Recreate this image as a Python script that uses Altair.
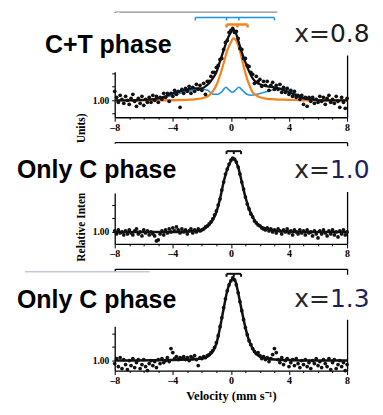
import altair as alt
import pandas as pd

# ---- data -----------------------------------------------------------------
# Doppler velocity channels (mm/s)
velocity = [
    -8.0, -7.875, -7.75, -7.625, -7.5, -7.375, -7.25, -7.125,
    -7.0, -6.875, -6.75, -6.625, -6.5, -6.375, -6.25, -6.125,
    -6.0, -5.875, -5.75, -5.625, -5.5, -5.375, -5.25, -5.125,
    -5.0, -4.875, -4.75, -4.625, -4.5, -4.375, -4.25, -4.125,
    -4.0, -3.875, -3.75, -3.625, -3.5, -3.375, -3.25, -3.125,
    -3.0, -2.875, -2.75, -2.625, -2.5, -2.375, -2.25, -2.125,
    -2.0, -1.875, -1.75, -1.625, -1.5, -1.375, -1.25, -1.125,
    -1.0, -0.875, -0.75, -0.625, -0.5, -0.375, -0.25, -0.125,
    0.0, 0.125, 0.25, 0.375, 0.5, 0.625, 0.75, 0.875,
    1.0, 1.125, 1.25, 1.375, 1.5, 1.625, 1.75, 1.875,
    2.0, 2.125, 2.25, 2.375, 2.5, 2.625, 2.75, 2.875,
    3.0, 3.125, 3.25, 3.375, 3.5, 3.625, 3.75, 3.875,
    4.0, 4.125, 4.25, 4.375, 4.5, 4.625, 4.75, 4.875,
    5.0, 5.125, 5.25, 5.375, 5.5, 5.625, 5.75, 5.875,
    6.0, 6.125, 6.25, 6.375, 6.5, 6.625, 6.75, 6.875,
    7.0, 7.125, 7.25, 7.375, 7.5, 7.625, 7.75, 7.875,
    8.0,
]

# measured points, per-mille above the 1.00 baseline
ct_points = [
    9, 3, -2, 5, 1, -3, 4, 0,
    -4, 2, 6, -1, -6, 2, -3, 4,
    -5, 1, -2, 3, -2, 5, 0, 4,
    -2, 3, 1, 7, 3, 7, -1, 7,
    4, 10, 6, 9, -7, 11, 7, 12,
    9, 14, 7, 13, 9, 16, 11, 15,
    10, 17, 6, 19, 19, 24, 28, 28,
    33, 35, 41, 42, 51, 58, 60, 68,
    70, 72, 68, 69, 62, 52, 51, 42,
    42, 35, 34, 28, 26, 17, 24, 19,
    21, 14, 19, 15, 19, 10, 15, 18,
    11, 15, 11, 16, 8, 13, 8, 12,
    6, 10, 4, 9, 3, 5, 1, 5,
    -4, 3, -6, 3, -1, 3, -3, 1,
    -2, 4, -1, 3, -4, 2, 5, -2,
    1, -3, 4, -1, -7, 3, -2, -8,
    2,
]
c10_points = [
    1, -2, 2, -1, 0, -3, 1, -2,
    2, -1, -3, 1, 3, -2, 0, -4,
    2, -1, 1, -3, 0, -2, -4, -9,
    -8, -2, 1, -3, 2, -1, 3, 0,
    4, 1, 5, 2, -1, 3, 0, 2,
    -2, 1, 3, -1, 2, 0, 3, 1,
    2, 3, 5, 6, 8, 10, 13, 17,
    21, 27, 33, 42, 50, 58, 63, 68,
    72, 74, 73, 70, 65, 58, 50, 43,
    35, 28, 23, 18, 15, 11, 9, 7,
    6, 4, 3, 2, 4, 1, 3, 0,
    2, -1, 3, 1, -2, 2, 0, 3,
    -1, 1, -3, 2, 0, -2, 2, -1,
    1, -3, 2, -1, 0, -4, 1, -2,
    -6, 1, -2, 2, -1, -4, 1, -2,
    2, -3, 0, -5, 1, -2, 2, -3,
    0,
]
c13_points = [
    -3, 2, -6, 3, -8, 1, -4, -9,
    0, -5, 2, -7, -2, 1, -8, -4,
    1, -6, -10, -3, 0, -5, -1, -7,
    1, -3, 2, -2, 0, 3, -1, 12,
    8, 2, 4, 1, 3, 2, 4, 1,
    3, 0, 4, 2, 5, 1, -5, 3,
    2, 4, 3, 5, 6, 8, 10, 13,
    18, 25, 34, 43, 53, 62, 70, 76,
    80, 83, 81, 76, 68, 59, 50, 41,
    33, 26, 20, 16, 12, 9, 7, 8,
    5, 2, 4, 1, 3, -1, 2, 6,
    12, 8, 1, -2, 3, -4, 0, 2,
    -6, -2, 1, -5, 2, -3, -7, 0,
    -4, 1, -6, -2, -8, 0, -3, 2,
    -5, -1, -7, 1, -3, -6, 2, -9,
    -2, 1, -8, -4, 0, -6, -2, -10,
    -4,
]

# fitted curves (velocity, per-mille)
ct_fit_v = [-8, -7, -6, -5.5, -5, -4.5, -4, -3.5, -3, -2.5, -2, -1.75, -1.5, -1.25, -1,
            -0.75, -0.5, -0.25, 0, 0.15, 0.3, 0.5, 0.75, 1, 1.25, 1.5, 1.75, 2, 2.5, 3,
            3.5, 4, 4.5, 5, 5.5, 6, 7, 8]
ct_fit = [0, 0, 0.5, 1, 2, 4, 7, 9, 11, 12, 12, 14, 17, 22, 28,
          39, 50, 61, 68, 71, 69, 60, 48, 38, 29, 22, 18, 16, 14, 13,
          11, 8, 5, 2, 1, 0, 0, 0]
ct_tet_v = [-8, -5, -3, -2.5, -2, -1.5, -1.25, -1, -0.75, -0.5, -0.25, 0, 0.15, 0.3,
            0.5, 0.75, 1, 1.25, 1.5, 1.75, 2, 2.5, 3, 4, 5, 8]
ct_tet = [0, 0, 0.5, 1, 2, 5, 9, 15, 25, 37, 50, 58, 62, 61,
          55, 42, 27, 16, 8, 5, 3, 1.5, 1, 0.5, 0, 0]
ct_cub_v = [-8, -7, -6, -5, -4.5, -4, -3.5, -3, -2.5, -2, -1.6, -1.2, -0.9, -0.6, -0.35,
            -0.1, 0.1, 0.3, 0.55, 0.8, 1.1, 1.4, 1.8, 2.3, 2.8, 3.3, 3.8, 4.3, 4.8, 5.3,
            5.8, 6.5, 8]
ct_cub = [0, 0, 0, 1, 3, 5, 7, 9, 10, 11, 10, 6, 6, 9, 13,
          10, 8, 10, 13, 10, 6, 5, 6, 8, 10, 12, 11, 8, 4, 2,
          1, 0, 0]
c10_fit_v = [-8, -4, -3, -2.5, -2, -1.75, -1.5, -1.25, -1, -0.75, -0.5, -0.25, 0, 0.15,
             0.3, 0.5, 0.75, 1, 1.25, 1.5, 1.75, 2, 2.5, 3, 4, 5, 8]
c10_fit = [0, 0, 0.5, 1, 2, 4, 7, 12, 20, 33, 50, 63, 71, 74,
           72, 65, 50, 35, 23, 15, 9, 6, 3, 1.5, 0.5, 0, 0]
c13_fit_v = [-8, -4, -3, -2, -1.5, -1.25, -1, -0.75, -0.5, -0.25, 0, 0.15, 0.3, 0.5,
             0.75, 1, 1.25, 1.5, 1.75, 2, 2.5, 3, 4, 5, 8]
c13_fit = [0, 0.5, 1, 2, 5, 9, 17, 33, 52, 70, 80, 82, 80, 68,
           50, 33, 20, 12, 7, 4, 2, 1, 0.5, 0, 0]

# component position brackets (velocity of legs) and their height (per-mille)
ct_cub_bracket = [-2.45, -0.3, 0.55, 3.0]
ct_tet_bracket = [-0.3, 0.45, 1.15]
c10_bracket = [-0.3, 0.2, 0.7]
c13_bracket = [-0.3, 0.2, 0.7]

phase_labels = ["C+T phase", "Only C phase", "Only C phase"]
x_prefix = "x="
x_values = ["0.8", "1.0", "1.3"]
y_title = "Relative Intensity (Arb. Units)"
x_title = "Velocity (mm s\u207b\u00b9)"
x_ticks = list(range(-8, 9))
y_ticks = [0.987, 1.0, 1.0135, 1.027, 1.0405, 1.054, 1.0675, 1.081]

# ---- styling --------------------------------------------------------------
BLACK = "#111111"
ORANGE = "#f5821f"
BLUE = "#1f93e6"
SERIF = "Liberation Serif"
SANS = "Liberation Sans"

xs = alt.Scale(domain=[-8, 8], nice=False, zero=False)


def to_int(vals):
    return [1 + d / 1000.0 for d in vals]


def one_row(**kw):
    return pd.DataFrame({k: [v] for k, v in kw.items()})


def x_axis(title):
    kw = dict(
        orient="bottom", values=x_ticks,
        labelExpr="datum.value % 4 == 0 ? (datum.value < 0 ? '\u2013' + (-datum.value) : '' + datum.value) : ''",
        tickSize={"condition": {"test": "datum.value % 4 == 0", "value": 4}, "value": 2},
        tickColor="black", tickWidth=1, domainColor="black", domainWidth=1.3,
        labelFont=SERIF, labelFontWeight="bold", labelFontSize=10, labelColor="black",
        labelPadding=1, labelFlush=False, labelOverlap=False, labelAngle=0, grid=False,
    )
    if title:
        kw.update(title=title, titleFont=SERIF, titleFontWeight="bold", titleFontSize=12.5,
                  titleColor="black", titlePadding=4)
    else:
        kw.update(title=None)
    return alt.Axis(**kw)


def y_axis():
    return alt.Axis(orient="left", values=y_ticks,
                    labelExpr="datum.value == 1 ? '1.00' : ''",
                    tickSize=3, tickColor="black", domainColor="black", domainWidth=1.3,
                    labelFont=SERIF, labelFontWeight="bold", labelFontSize=9.5,
                    labelColor="black", labelPadding=3, labelOverlap=False,
                    grid=False, title=None)


def box(x0, x1, y0, y1):
    return alt.Chart(one_row(k=0)).mark_rect(color="white").encode(
        x=alt.value(x0), x2=alt.value(x1), y=alt.value(y0), y2=alt.value(y1))


def label_layers(i, base_y, xval_y, val_color):
    lay = [
        alt.Chart(one_row(t=phase_labels[i])).mark_text(
            align="left", baseline="alphabetic", font=SANS, fontSize=25,
            fontWeight="bold", color="black").encode(
            x=alt.value(-98 if i > 0 else -70), y=alt.value(base_y), text="t:N"),
        alt.Chart(one_row(t=x_prefix)).mark_text(
            align="left", baseline="alphabetic", font="DejaVu Sans", fontSize=25,
            color="#262626").encode(x=alt.value(180), y=alt.value(xval_y), text="t:N"),
        alt.Chart(one_row(t=x_values[i])).mark_text(
            align="left", baseline="alphabetic", font="DejaVu Sans", fontSize=25,
            color=val_color).encode(x=alt.value(215.8), y=alt.value(xval_y), text="t:N"),
    ]
    return lay


def bracket(ys, legs, level, color, width):
    lv = 1 + level / 1000.0
    h = alt.Chart(one_row(a=min(legs), b=max(legs), y=lv)).mark_rule(
        color=color, strokeWidth=width).encode(
        x=alt.X("a:Q", scale=xs, axis=None), x2="b:Q",
        y=alt.Y("y:Q", scale=ys, axis=None))
    t = alt.Chart(pd.DataFrame({"a": legs, "y": [lv] * len(legs),
                                "y2": [lv - 0.003] * len(legs)})).mark_rule(
        color=color, strokeWidth=width).encode(
        x=alt.X("a:Q", scale=xs, axis=None),
        y=alt.Y("y:Q", scale=ys, axis=None), y2="y2:Q")
    return [h, t]


def line(ys, v, vals, color, width, frame=None):
    df = pd.DataFrame({"v": v, "y": to_int(vals)})
    if frame is None:
        xa, ya = None, None
    else:
        xa = alt.Axis(orient="top", ticks=False, labels=False, grid=False, title=None,
                      domainColor=frame, domainWidth=1.3)
        ya = alt.Axis(orient="right", ticks=False, labels=False, grid=False, title=None,
                      domainColor="black", domainWidth=1.3)
    return alt.Chart(df).mark_line(color=color, strokeWidth=width,
                                   interpolate="monotone").encode(
        x=alt.X("v:Q", scale=xs, axis=xa), y=alt.Y("y:Q", scale=ys, axis=ya))


def points(ys, vals, title):
    n = min(len(velocity), len(vals))
    df = pd.DataFrame({"v": velocity[:n], "y": to_int(vals[:n])})
    return alt.Chart(df).mark_circle(size=14, color=BLACK, opacity=1).encode(
        x=alt.X("v:Q", scale=xs, axis=x_axis(title)),
        y=alt.Y("y:Q", scale=ys, axis=y_axis()))


W = 233

# ---- panel 1: x = 0.8 -----------------------------------------------------
ys1 = alt.Scale(domain=[0.983, 1.089], nice=False, zero=False)
p1 = alt.layer(
    line(ys1, ct_cub_v, ct_cub, BLUE, 1.6, frame="#8c8c8c"),
    line(ys1, ct_tet_v, ct_tet, ORANGE, 2.2),
    points(ys1, ct_points, None),
    line(ys1, ct_fit_v, ct_fit, BLACK, 2.3),
    *bracket(ys1, ct_cub_bracket, 83, BLUE, 1.5),
    *bracket(ys1, ct_tet_bracket, 76, ORANGE, 2.5),
    box(-20, 5, 1, 61),
    box(163, 245, -1, 44),
    *label_layers(0, 42, 31, "#1b1b1b"),
).resolve_axis(x="independent", y="independent").properties(width=W, height=106)

# ---- panel 2: x = 1.0 -----------------------------------------------------
ys2 = alt.Scale(domain=[0.988, 1.090], nice=False, zero=False)
p2 = alt.layer(
    line(ys2, c10_fit_v, c10_fit, BLACK, 2.5, frame="black"),
    points(ys2, c10_points, None),
    *bracket(ys2, c10_bracket, 81, BLACK, 2),
    alt.Chart(one_row(t=y_title)).mark_text(
        angle=270, align="center", baseline="middle", font=SERIF,
        fontWeight="bold", fontSize=11.5, color="black").encode(
        x=alt.value(-33), y=alt.value(45.5), text="t:N"),
    box(-45, 5, 1.5, 51.5),
    box(225, 245, 4, 50),
    *label_layers(1, 36, 36, "#1e1e5c"),
).resolve_axis(x="independent", y="independent").properties(width=W, height=102)

# ---- panel 3: x = 1.3 -----------------------------------------------------
ys3 = alt.Scale(domain=[0.990, 1.092], nice=False, zero=False)
p3 = alt.layer(
    line(ys3, c13_fit_v, c13_fit, BLACK, 2.5, frame="black"),
    points(ys3, c13_points, x_title),
    *bracket(ys3, c13_bracket, 87, BLACK, 2),
    box(-20, 5, 2.5, 58),
    box(225, 245, 6, 51),
    alt.Chart(one_row(k=0)).mark_rule(color="#a9b0c8", strokeWidth=1).encode(
        x=alt.value(-90), x2=alt.value(35), y=alt.value(3)),
    *label_layers(2, 39, 38, "#1e1e5c"),
).resolve_axis(x="independent", y="independent").properties(width=W, height=102)

chart = alt.vconcat(p1, p2, p3, spacing=25, bounds="flush").properties(
    padding={"left": 9, "top": 2, "right": 5, "bottom": 0},
    background="white",
).configure_view(stroke=None)

chart.save("out.html", embed_options={"renderer": "svg", "actions": False})
